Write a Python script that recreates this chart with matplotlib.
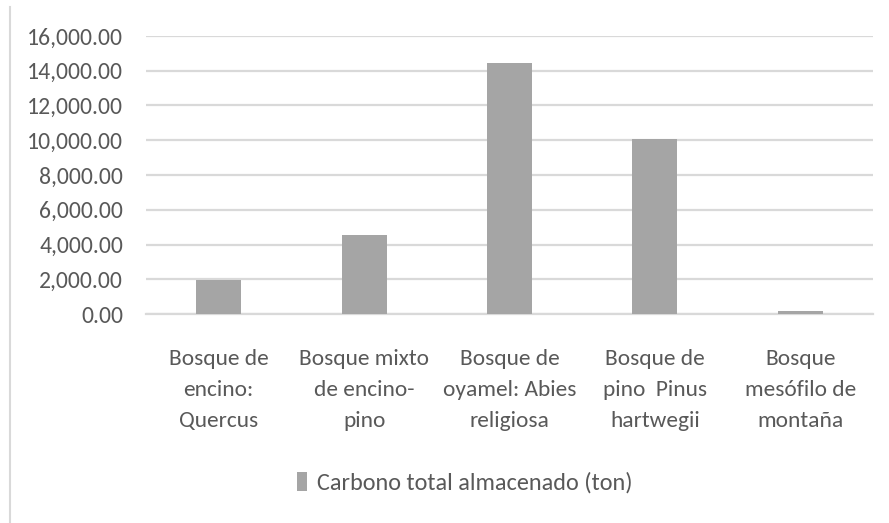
import matplotlib
matplotlib.use("Agg")
import matplotlib.pyplot as plt
from matplotlib.lines import Line2D
from matplotlib.ticker import FuncFormatter
from matplotlib import font_manager

categories = [
    "Bosque de\nencino:\nQuercus",
    "Bosque mixto\nde encino-\npino",
    "Bosque de\noyamel: Abies\nreligiosa",
    "Bosque de\npino  Pinus\nhartwegii",
    "Bosque\nmesófilo de\nmontaña",
]
carbono = [1950, 4530, 14430, 10090, 170]
y_ticks = [0, 2000, 4000, 6000, 8000, 10000, 12000, 14000, 16000]
series_name = "Carbono total almacenado (ton)"

# Calibri-like face if present
installed = {f.name for f in font_manager.fontManager.ttflist}
preferred = ["Carlito", "Open Sans", "DejaVu Sans"]
main_font = next(f for f in preferred if f in installed)
plt.rcParams["font.family"] = [main_font, "DejaVu Sans"]
scale = 1.0 if main_font == "Carlito" else 0.85

text_color = "#595959"
grid_color = "#d9d9d9"
bar_color = "#a5a5a5"

fig = plt.figure(figsize=(8.89, 5.23), dpi=100)
ax = fig.add_axes([0.1642, 0.3996, 0.8178, 0.5316])

x = list(range(len(categories)))
ax.bar(x, carbono, width=0.31, color=bar_color, label=series_name, zorder=3)

ax.set_xlim(-0.5, len(categories) - 0.5)
ax.set_ylim(0, 16000)
ax.set_yticks(y_ticks)
ax.yaxis.set_major_formatter(FuncFormatter(lambda v, p: f"{v:,.2f}"))
ax.grid(axis="y", color=grid_color, linewidth=1.6, zorder=0)
ax.set_axisbelow(True)
for s in ax.spines.values():
    s.set_visible(False)
ax.spines["bottom"].set_visible(True)
ax.spines["bottom"].set_color(grid_color)
ax.spines["bottom"].set_linewidth(1.6)

ax.set_xticks(x)
ax.set_xticklabels(categories, fontsize=16.8 * scale, color=text_color, linespacing=1.7)
ax.tick_params(axis="both", length=0)
ax.tick_params(axis="x", pad=25)
ax.tick_params(axis="y", labelsize=17 * scale, labelcolor=text_color, pad=16.5)

fig.legend(loc="center", bbox_to_anchor=(0.5225, 0.077), frameon=False,
           fontsize=17.5 * scale, labelcolor=text_color, handlelength=0.42,
           handleheight=0.85, handletextpad=0.4)

fig.add_artist(Line2D([10 / 889, 10 / 889], [0, 1 - 7 / 523],
                      transform=fig.transFigure, color=grid_color, linewidth=1.5))

fig.savefig("out.png", dpi=100)
